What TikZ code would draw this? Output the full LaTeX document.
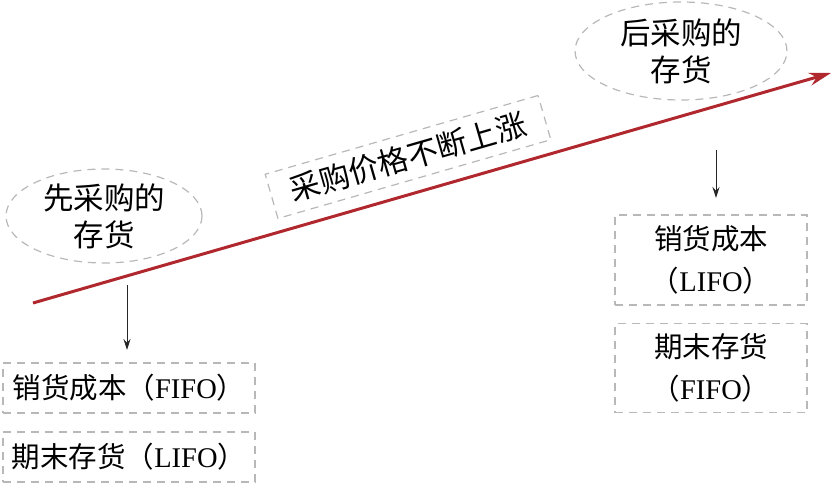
\documentclass[tikz,border=0pt]{standalone}
\usepackage{fontspec}
\setmainfont{Liberation Serif}
\newfontfamily\cjk{Noto Sans CJK SC}
\usetikzlibrary{shapes.geometric,arrows.meta}
\definecolor{arrred}{HTML}{B0282E}
\definecolor{dgray}{HTML}{B8B8B8}
\tikzset{
  dbox/.style={draw=dgray, line width=1.2pt, dash pattern=on 8pt off 6pt, inner sep=0pt},
  oval/.style={ellipse, draw=dgray, line width=1.2pt, dash pattern=on 8pt off 6pt, inner sep=0pt},
  lbl/.style={font=\fontsize{28.5}{42}\selectfont, align=center, text=black},
  elbl/.style={font=\fontsize{30.5}{37}\selectfont\cjk, align=center, text=black},
  darr/.style={-{Stealth[length=11pt,width=7pt]}, line width=1pt, black!85},
}
\begin{document}
\begin{tikzpicture}[x=1pt,y=-1pt]
\useasboundingbox (0,0) rectangle (834,486);
% red arrow
\coordinate (rs) at (33,303);
\coordinate (re) at (831,73);
\draw[arrred, line width=3pt, -{Stealth[length=22pt,width=13pt]}] (rs) -- (re);
% ellipses
\node[oval, minimum width=196pt, minimum height=94pt] (eL) at (104,216) {};
\node[elbl] (tL) at (eL.center) {先采购的\\存货};
\node[oval, minimum width=212pt, minimum height=98pt] (eR) at (681,51) {};
\node[elbl] (tR) at (eR.center) {后采购的\\存货};
% rotated label
\node[dbox, rotate=16.1, minimum width=284pt, minimum height=46pt, font=\fontsize{30.5}{32}\selectfont\cjk] (mid) at (408,157) {采购价格不断上涨};
% left boxes
\node[dbox, minimum width=252pt, minimum height=50pt, lbl] (b1) at (129,388) {{\cjk 销货成本（}FIFO{\cjk ）}};
\node[dbox, minimum width=252pt, minimum height=50pt, lbl] (b2) at (129,457) {{\cjk 期末存货（}LIFO{\cjk ）}};
% right boxes
\node[dbox, minimum width=192pt, minimum height=90pt, lbl] (b3) at (711,260) {{\cjk 销货成本}\\{\cjk （}LIFO{\cjk ）}};
\node[dbox, minimum width=192pt, minimum height=89pt, lbl] (b4) at (711,368) {{\cjk 期末存货}\\{\cjk （}FIFO{\cjk ）}};
% down arrows
\coordinate (a1s) at (127,285);
\coordinate (a1e) at (127,350);
\draw[darr] (a1s) -- (a1e);
\coordinate (a2s) at (716,150);
\coordinate (a2e) at (716,198);
\draw[darr] (a2s) -- (a2e);
\end{tikzpicture}
\end{document}
